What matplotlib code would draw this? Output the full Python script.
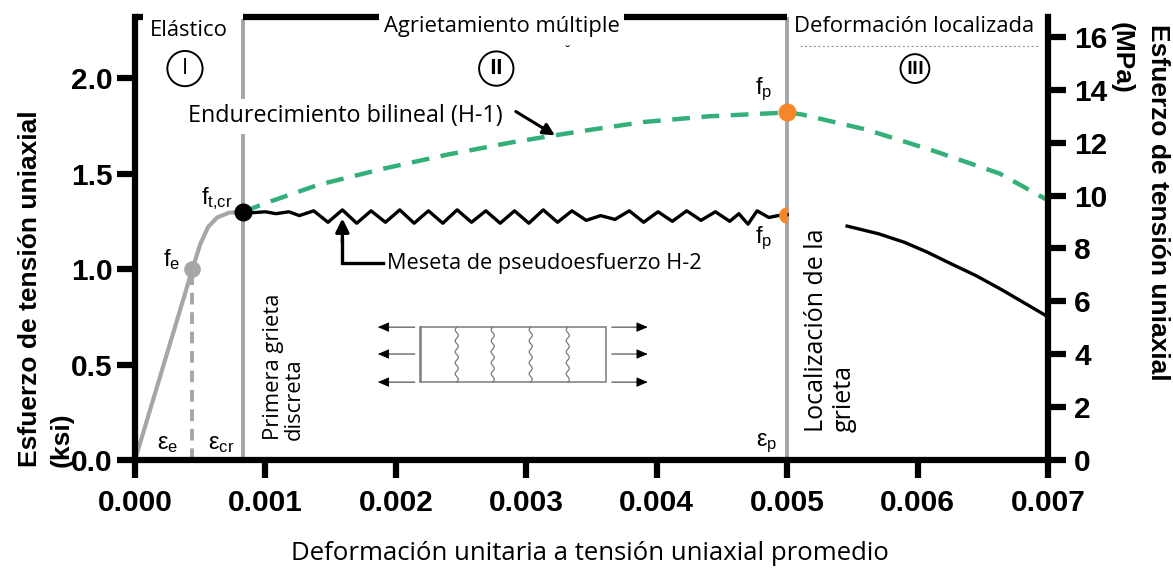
import numpy as np
import matplotlib.pyplot as plt
from matplotlib.patches import Rectangle

plt.rcParams.update({
    "font.family": "Open Sans",
    "mathtext.fontset": "custom",
    "mathtext.rm": "Liberation Sans",
    "mathtext.it": "Liberation Sans:italic",
})

# ---------------- datos ----------------
# tramo elástico (gris)
def_elast = [0.0, 0.00044, 0.00050, 0.00056, 0.00063, 0.00072, 0.00083]
esf_elast = [0.0, 1.00, 1.13, 1.22, 1.27, 1.295, 1.30]

# endurecimiento bilineal H-1 (verde discontinuo)
def_h1 = [0.00083, 0.0010, 0.0014, 0.0019, 0.0024, 0.0029, 0.0034, 0.0039, 0.0044,
          0.0050, 0.00511, 0.00561, 0.00612, 0.00663, 0.0070]
esf_h1 = [1.30, 1.345, 1.44, 1.525, 1.60, 1.665, 1.72, 1.77, 1.80,
          1.82, 1.81, 1.73, 1.62, 1.50, 1.36]

# meseta de pseudoesfuerzo H-2 (zigzag negro)
def_h2 = [0.00083, 0.00090, 0.00100, 0.00108, 0.00118, 0.00126, 0.00137, 0.00148, 0.00159, 0.00170,
          0.00181, 0.00192, 0.00203, 0.00214, 0.00225, 0.00236, 0.00247, 0.00258, 0.00269, 0.00280,
          0.00291, 0.00302, 0.00313, 0.00324, 0.00335, 0.00346, 0.00357, 0.00368, 0.00379, 0.00390,
          0.00401, 0.00412, 0.00423, 0.00434, 0.00445, 0.00456, 0.00463, 0.00470, 0.00477, 0.00486,
          0.00493, 0.00500]
esf_h2 = [1.30, 1.295, 1.30, 1.29, 1.30, 1.28, 1.305, 1.245, 1.31, 1.24,
          1.305, 1.245, 1.31, 1.24, 1.305, 1.24, 1.31, 1.245, 1.305, 1.24,
          1.305, 1.24, 1.31, 1.245, 1.305, 1.255, 1.28, 1.26, 1.305, 1.245,
          1.30, 1.25, 1.305, 1.255, 1.30, 1.25, 1.29, 1.235, 1.305, 1.27,
          1.28, 1.285]

# deformación localizada (ablandamiento)
def_abl = [0.00546, 0.0057, 0.0059, 0.00607, 0.00625, 0.00645, 0.00665, 0.00685, 0.0070]
esf_abl = [1.225, 1.185, 1.14, 1.09, 1.03, 0.965, 0.89, 0.81, 0.75]

# puntos característicos
eps_e, f_e = 0.00044, 1.00
eps_cr, f_cr = 0.00083, 1.30
eps_p, f_p_h1, f_p_h2 = 0.005, 1.82, 1.285

x_ticks = [0.000, 0.001, 0.002, 0.003, 0.004, 0.005, 0.006, 0.007]
y_ticks_ksi = [0.0, 0.5, 1.0, 1.5, 2.0]
y_ticks_mpa = [0, 2, 4, 6, 8, 10, 12, 14, 16]

# ---------------- figura ----------------
gris = "#a6a6a6"
verde = "#33b07a"
naranja = "#f5872a"
lw_eje = 4.5

fig = plt.figure(figsize=(11.73, 5.71), dpi=100)
ax = fig.add_axes([0.1151, 0.1944, 0.7783, 0.7758])
ax2 = ax.twinx()
ax2.set_position(ax.get_position())

ax.set_xlim(0, 0.007)
ax.set_ylim(0, 2.32)
ax2.set_ylim(0, 16.75)

for a in (ax, ax2):
    a.spines["top"].set_visible(False)
    for s in a.spines.values():
        s.set_linewidth(lw_eje)
ax.spines["right"].set_visible(False)
ax2.spines["left"].set_visible(False)
ax2.spines["bottom"].set_visible(False)

fnt_tick = dict(family="Liberation Sans", weight="bold", size=21.5)
ax.set_xticks(x_ticks)
ax.set_xticklabels([f"{v:.3f}" for v in x_ticks], fontdict=fnt_tick)
ax.set_yticks(y_ticks_ksi)
ax.set_yticklabels([f"{v:.1f}" for v in y_ticks_ksi], fontdict=fnt_tick)
ax2.set_yticks(y_ticks_mpa)
ax2.set_yticklabels([str(v) for v in y_ticks_mpa], fontdict=fnt_tick)
ax.tick_params(axis="x", length=13, width=lw_eje, pad=8)
ax.tick_params(axis="y", length=13, width=lw_eje, pad=3)
ax2.tick_params(axis="y", length=13, width=lw_eje, pad=6)

# líneas verticales de referencia
ax.plot([eps_cr, eps_cr], [0, 2.30], color=gris, lw=2.8, zorder=1)
ax.plot([eps_p, eps_p], [0, 2.32], color=gris, lw=2.8, zorder=1)
ax.plot([eps_e, eps_e], [0, f_e], color=gris, lw=2.8, ls=(0, (3, 2)), zorder=1)

# barra superior de la zona de agrietamiento
ax.plot([eps_cr, eps_p], [2.32, 2.32], color="black", lw=lw_eje, clip_on=False, zorder=4,
        solid_capstyle="butt")
ax.plot([0, 0.00006], [2.32, 2.32], color="black", lw=lw_eje, clip_on=False, zorder=4,
        solid_capstyle="butt")

# curvas
ax.plot(def_elast, esf_elast, color=gris, lw=3, zorder=2)
ax.plot(def_h1, esf_h1, color=verde, lw=3.2, ls=(0, (4, 2.6)), zorder=3)
ax.plot(def_h2, esf_h2, color="black", lw=2.4, zorder=3)
ax.plot(def_abl, esf_abl, color="black", lw=2.4, zorder=3)

# puntos
ax.plot(eps_e, f_e, "o", color=gris, ms=11, zorder=5)
ax.plot(eps_cr, f_cr, "o", color="black", ms=12, zorder=5)
ax.plot(eps_p, f_p_h1, "o", color=naranja, ms=12, zorder=5)
ax.plot(eps_p, f_p_h2, "o", color=naranja, ms=12, fillstyle="left",
        markerfacecoloralt="none", markeredgewidth=0, zorder=5)

# etiquetas de puntos
fsym = 17
ax.text(0.00028, 1.05, r"$\mathrm{f}_{\mathrm{e}}$", fontsize=fsym, ha="center", va="center")
ax.text(0.00063, 1.37, r"$\mathrm{f}_{\mathrm{t{,}cr}}$", fontsize=fsym, ha="center", va="center")
ax.text(0.00482, 1.94, r"$\mathrm{f}_{\mathrm{p}}$", fontsize=fsym, ha="center", va="center")
ax.text(0.00482, 1.16, r"$\mathrm{f}_{\mathrm{p}}$", fontsize=fsym, ha="center", va="center")
ax.text(0.00025, 0.09, r"$\mathrm{\varepsilon}_{\mathrm{e}}$", fontsize=fsym, ha="center", va="center")
ax.text(0.00066, 0.09, r"$\mathrm{\varepsilon}_{\mathrm{cr}}$", fontsize=fsym, ha="center", va="center")
ax.text(0.00484, 0.09, r"$\mathrm{\varepsilon}_{\mathrm{p}}$", fontsize=fsym, ha="center", va="center")

# zonas
fz = 15.8
ax.text(0.000414, 2.25, "Elástico", fontsize=fz, ha="center", va="center")
ax.text(0.00281, 2.27, "Agrietamiento múltiple", fontsize=fz, ha="center", va="center",
        bbox=dict(fc="white", ec="none", pad=3), zorder=6)
ax.text(0.00505, 2.27, "Deformación localizada", fontsize=fz, ha="left", va="center",
        bbox=dict(fc="white", ec="none", pad=2), zorder=6)
ax.plot([0.0051, 0.00693], [2.17, 2.17], color="#9a9a9a", lw=0.8, ls=(0, (2, 2)))
ax.text(0.00331, 2.135, "˘", fontsize=10, ha="center", va="center")

circ = dict(boxstyle="circle,pad=0.32", fc="white", ec="black", lw=1.4)
ax.text(0.000383, 2.05, "I", fontsize=16, ha="center", va="center", bbox=circ)
ax.text(0.00277, 2.05, "II", fontsize=15, weight="bold", ha="center", va="center", bbox=circ)
ax.text(0.00598, 2.05, "III", fontsize=13, weight="bold", ha="center", va="center",
        bbox=dict(boxstyle="circle,pad=0.3", fc="white", ec="black", lw=1.4))

# anotaciones
ax.text(0.000406, 1.80, "Endurecimiento bilineal (H-1)", fontsize=16.8, ha="left", va="center",
        bbox=dict(fc="white", ec="none", pad=4), zorder=6)
ax.annotate("", xy=(0.00322, 1.70), xytext=(0.00292, 1.825),
            arrowprops=dict(arrowstyle="-|>,head_length=0.7,head_width=0.35", color="black",
                            lw=2.2, shrinkA=0, shrinkB=0), zorder=7)
ax.text(0.00193, 1.031, "Meseta de pseudoesfuerzo H-2", fontsize=15.6, ha="left", va="center")
ax.plot([0.00190, 0.00159, 0.00159], [1.031, 1.031, 1.15], color="black", lw=2.4,
        solid_joinstyle="miter")
ax.annotate("", xy=(0.00159, 1.265), xytext=(0.00159, 1.14),
            arrowprops=dict(arrowstyle="-|>,head_length=0.8,head_width=0.4", color="black",
                            lw=2.4, shrinkA=0, shrinkB=0))

ax.text(0.00114, 0.105, "Primera grieta\ndiscreta", fontsize=15.8, rotation=90,
        ha="center", va="bottom", multialignment="left", linespacing=1.0)
ax.text(0.00533, 0.147, "Localización de la\ngrieta", fontsize=18, rotation=90,
        ha="center", va="bottom", multialignment="left", linespacing=1.15)

# esquema de la probeta
x0, x1 = 0.002184, 0.003609
y0, y1 = 0.408, 0.696
gr = "#7a7a7a"
ax.add_patch(Rectangle((x0, y0), x1 - x0, y1 - y0, fill=False, ec=gr, lw=1.1))
ax.plot([x0 + 0.000012, x0 + 0.000012], [y0, y1], color=gr, lw=1.1)
yy = np.linspace(y0, y1, 60)
for xc in [0.002467, 0.002743, 0.003034, 0.003318]:
    ax.plot(xc + 0.000012 * np.sin((yy - y0) / (y1 - y0) * 2 * np.pi * 5), yy, color=gr, lw=0.9)
for yf in [0.696, 0.555, 0.408]:
    ax.annotate("", xy=(0.001862, yf), xytext=(0.002146, yf),
                arrowprops=dict(arrowstyle="-|>,head_length=0.7,head_width=0.3", color="black",
                                lw=0.6, shrinkA=0, shrinkB=0))
    ax.annotate("", xy=(0.003931, yf), xytext=(0.003655, yf),
                arrowprops=dict(arrowstyle="-|>,head_length=0.7,head_width=0.3", color="black",
                                lw=0.6, shrinkA=0, shrinkB=0))

# títulos de ejes
fnt_lab = dict(family="Liberation Sans", weight="bold", size=19)
fig.text(30 / 1173, 1 - 289 / 571, "Esfuerzo de tensión uniaxial", rotation=90,
         ha="center", va="center", **fnt_lab)
fig.text(62 / 1173, 1 - 440 / 571, "(ksi)", rotation=90, ha="center", va="center", **fnt_lab)
fig.text(1158 / 1173, 1 - 202 / 571, "Esfuerzo de tensión uniaxial", rotation=270,
         ha="center", va="center", **fnt_lab)
fig.text(1122 / 1173, 1 - 58 / 571, "(MPa)", rotation=270, ha="center", va="center", **fnt_lab)
fig.text(590 / 1173, 1 - 553 / 571, "Deformación unitaria a tensión uniaxial promedio",
         ha="center", va="center", fontsize=18.5)

fig.savefig("out.png", dpi=100, facecolor="white")
